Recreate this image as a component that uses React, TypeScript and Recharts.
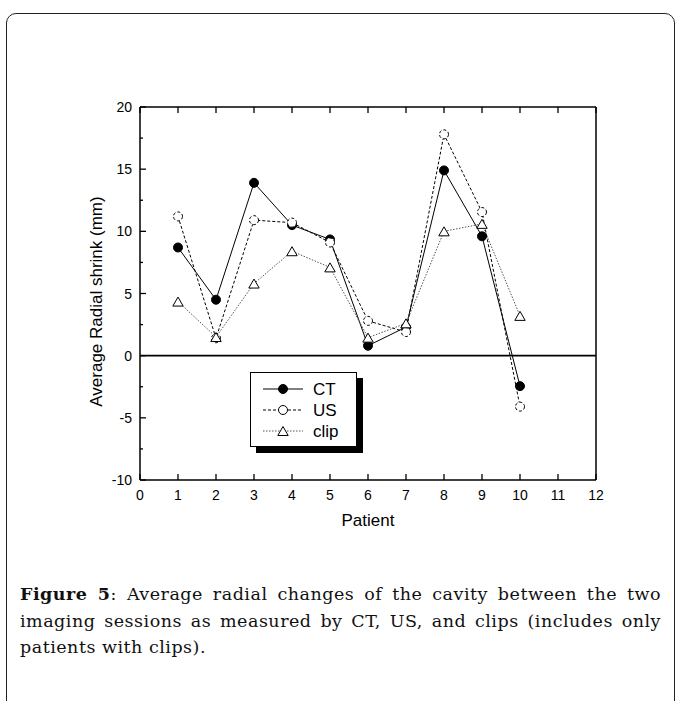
import React from 'react';
import { LineChart, Line, XAxis, YAxis, ReferenceLine, Legend, Label } from 'recharts';

const patients = [1, 2, 3, 4, 5, 6, 7, 8, 9, 10];
const ctValues = [8.7, 4.5, 13.9, 10.5, 9.35, 0.8, 2.3, 14.9, 9.6, -2.45];
const usValues = [11.2, 1.4, 10.9, 10.7, 9.1, 2.8, 1.9, 17.8, 11.55, -4.1];
const clipValues = [4.35, 1.5, 5.8, 8.4, 7.1, 1.45, 2.6, 10.0, 10.6, 3.2];

const xTicks = [0, 1, 2, 3, 4, 5, 6, 7, 8, 9, 10, 11, 12];
const yTicks = [-10, -7.5, -5, -2.5, 0, 2.5, 5, 7.5, 10, 12.5, 15, 17.5, 20];
const seriesNames = ['CT', 'US', 'clip'];

const captionLines = [
  'Average radial changes of the cavity between the two',
  'imaging sessions as measured by CT, US, and clips (includes only',
  'patients with clips).',
];

const data = patients.map((p, i) => ({
  patient: p,
  ct: ctValues[i],
  us: usValues[i],
  clip: clipValues[i],
}));

const FONT = '"Liberation Sans", Arial, sans-serif';

const BottomTick = (props: any) => {
  const { x, y, payload } = props;
  return (
    <g>
      <line x1={x} x2={x} y1={y} y2={y - 6} stroke="#000" strokeWidth={1.3} />
      <text x={x} y={y + 10} dy="0.71em" textAnchor="middle" fontSize={14} fontFamily={FONT} fill="#000">
        {payload.value}
      </text>
    </g>
  );
};

const TopTick = (props: any) => {
  const { x, y } = props;
  return <line x1={x} x2={x} y1={y} y2={y + 6} stroke="#000" strokeWidth={1.3} />;
};

const LeftTick = (props: any) => {
  const { x, y, payload } = props;
  const major = payload.value % 5 === 0;
  return (
    <g>
      <line x1={x} x2={x + (major ? 6 : 3)} y1={y} y2={y} stroke="#000" strokeWidth={1.3} />
      {major && (
        <text x={x - 8} y={y} dy="0.36em" textAnchor="end" fontSize={14} fontFamily={FONT} fill="#000">
          {payload.value}
        </text>
      )}
    </g>
  );
};

const RightTick = (props: any) => {
  const { x, y, payload } = props;
  const major = payload.value % 5 === 0;
  return <line x1={x} x2={x - (major ? 6 : 3)} y1={y} y2={y} stroke="#000" strokeWidth={1.3} />;
};

const Triangle = (props: any) => {
  const { cx, cy } = props;
  if (cx == null || cy == null) return null;
  return (
    <polygon
      points={`${cx},${cy - 4.5} ${cx - 5.2},${cy + 4.5} ${cx + 5.2},${cy + 4.5}`}
      fill="#fff"
      stroke="#000"
      strokeWidth={1}
    />
  );
};

const LegendBox = () => (
  <div
    style={{
      width: 107,
      height: 75,
      border: '1px solid #000',
      background: '#fff',
      boxShadow: '6px 6px 0 #000',
      boxSizing: 'border-box',
    }}
  >
    <svg width={105} height={73} style={{ display: 'block' }}>
      {seriesNames.map((name, i) => {
        const y = 16 + 21 * i;
        const dash = i === 0 ? undefined : i === 1 ? '3 2' : '1.5 1.5';
        return (
          <g key={name}>
            <line x1={12} x2={52} y1={y} y2={y} stroke={i === 2 ? '#555' : '#000'} strokeWidth={1} strokeDasharray={dash} />
            {i === 0 && <circle cx={32} cy={y} r={4.5} fill="#000" stroke="#000" />}
            {i === 1 && <circle cx={32} cy={y} r={4.5} fill="#fff" stroke="#000" />}
            {i === 2 && <Triangle cx={32} cy={y} />}
            <text x={62} y={y} dy="0.36em" fontSize={17} fontFamily={FONT} fill="#000">
              {name}
            </text>
          </g>
        );
      })}
    </svg>
  </div>
);

export default function App() {
  return (
    <div style={{ position: 'absolute', left: 0, top: 0, width: 678, height: 701, background: '#fff', overflow: 'hidden' }}>
      <div
        style={{
          position: 'absolute',
          left: 6,
          top: 13,
          width: 669,
          height: 720,
          border: '1.3px solid #222',
          borderRadius: 10,
          boxSizing: 'border-box',
        }}
      />
      <div style={{ position: 'absolute', left: 0, top: 0 }}>
        <LineChart width={678} height={560} data={data} margin={{ top: 106, right: 81, bottom: 0, left: 52 }}>
          <XAxis
            xAxisId="bottom"
            dataKey="patient"
            type="number"
            domain={[0, 12]}
            ticks={xTicks}
            interval={0}
            orientation="bottom"
            height={80}
            tickSize={0}
            tickMargin={0}
            tickLine={false}
            tick={<BottomTick />}
            axisLine={{ stroke: '#000', strokeWidth: 1.5 }}
          >
            <Label value="Patient" position="center" fontSize={17} fontFamily={FONT} fill="#000" />
          </XAxis>
          <XAxis
            xAxisId="top"
            dataKey="patient"
            type="number"
            domain={[0, 12]}
            ticks={xTicks}
            interval={0}
            orientation="top"
            height={1}
            tickSize={0}
            tickMargin={0}
            tickLine={false}
            tick={<TopTick />}
            axisLine={{ stroke: '#000', strokeWidth: 1.5 }}
          />
          <YAxis
            yAxisId="left"
            type="number"
            domain={[-10, 20]}
            ticks={yTicks}
            interval={0}
            width={88}
            tickSize={0}
            tickMargin={0}
            tickLine={false}
            tick={<LeftTick />}
            axisLine={{ stroke: '#000', strokeWidth: 1.5 }}
          >
            <Label
              value="Average Radial shrink (mm)"
              angle={-90}
              position="center"
              dy={8}
              fontSize={17}
              fontFamily={FONT}
              fill="#000"
            />
          </YAxis>
          <YAxis
            yAxisId="right"
            orientation="right"
            type="number"
            domain={[-10, 20]}
            ticks={yTicks}
            interval={0}
            width={1}
            tickSize={0}
            tickMargin={0}
            tickLine={false}
            tick={<RightTick />}
            axisLine={{ stroke: '#000', strokeWidth: 1.5 }}
          />
          <ReferenceLine y={0} xAxisId="bottom" yAxisId="left" stroke="#000" strokeWidth={1.6} />
          <Legend
            layout="vertical"
            align="center"
            verticalAlign="middle"
            content={<LegendBox />}
            wrapperStyle={{ left: 250, top: 372, width: 107, height: 75 }}
          />
          <Line
            xAxisId="bottom"
            yAxisId="left"
            dataKey="ct"
            name="CT"
            stroke="#000"
            strokeWidth={1}
            dot={{ r: 4.5, fill: '#000', stroke: '#000', strokeWidth: 1 }}
            isAnimationActive={false}
          />
          <Line
            xAxisId="bottom"
            yAxisId="left"
            dataKey="us"
            name="US"
            stroke="#000"
            strokeWidth={1}
            strokeDasharray="3 2"
            dot={{ r: 4.5, fill: '#fff', stroke: '#000', strokeWidth: 1 }}
            isAnimationActive={false}
          />
          <Line
            xAxisId="bottom"
            yAxisId="left"
            dataKey="clip"
            name="clip"
            stroke="#555"
            strokeWidth={1}
            strokeDasharray="1.5 1.5"
            dot={<Triangle />}
            isAnimationActive={false}
          />
        </LineChart>
      </div>
      <div
        style={{
          position: 'absolute',
          left: 20,
          top: 581,
          width: 641,
          fontFamily: '"DejaVu Serif", "Liberation Serif", serif',
          fontSize: 17.5,
          letterSpacing: 0.5,
          lineHeight: '26.5px',
          color: '#111',
        }}
      >
        {captionLines.map((line, i) => (
          <div
            key={i}
            style={{
              textAlign: 'justify',
              textAlignLast: i < captionLines.length - 1 ? 'justify' : 'left',
              whiteSpace: 'nowrap',
            }}
          >
            {i === 0 && <b>Figure 5</b>}
            {i === 0 ? ': ' + line : line}
          </div>
        ))}
      </div>
    </div>
  );
}
